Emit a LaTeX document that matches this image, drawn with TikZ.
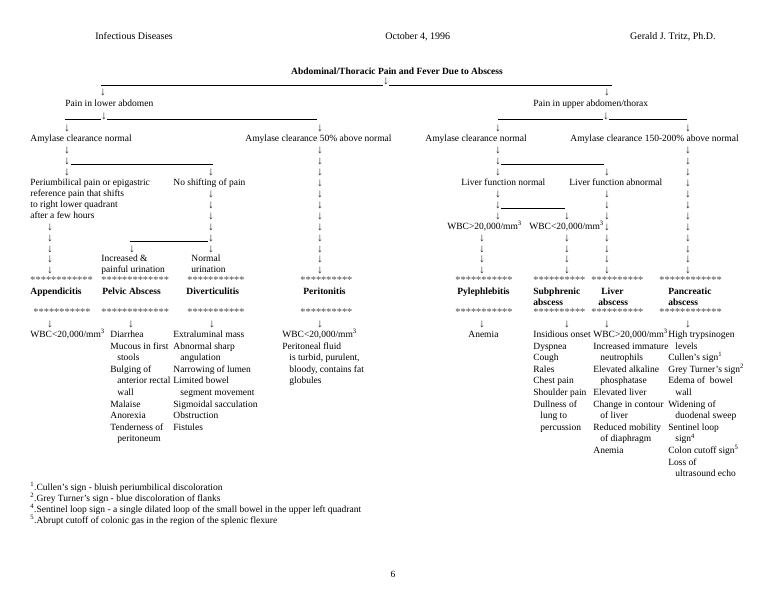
\documentclass[tikz,border=0pt]{standalone}
\usepackage{fontspec}
\setmainfont{Liberation Serif}
\newcommand{\ind}{\hspace*{7pt}}
\newcommand{\mmc}{mm\textsuperscript{3}}

\begin{document}
\begin{tikzpicture}[x=1pt,y=-1pt,line width=0.8pt,
  txt/.style={anchor=west,inner sep=0pt,font=\fontsize{9.5}{11}\selectfont,text height=6.8pt,text depth=1.8pt},
  bold txt/.style={txt,font=\fontsize{9.5}{11}\selectfont\bfseries},
  star/.style={txt,font=\fontsize{10.4}{11}\selectfont,text=black!70},
  dn/.style={inner sep=0pt,font=\fontsize{11.5}{12}\selectfont,text=black!85}]

\useasboundingbox[fill=white] (0,0) rectangle (772,589);

% header
\node[txt,font=\fontsize{10}{12}\selectfont] (h1) at (95,37) {Infectious Diseases};
\node[txt,font=\fontsize{10}{12}\selectfont] (h2) at (385,37) {October 4, 1996};
\node[txt,font=\fontsize{10}{12}\selectfont,anchor=east] (h3) at (716,37) {Gerald J. Tritz, Ph.D.};
\node[bold txt,anchor=center,text depth=0pt] (title) at (397,71) {Abdominal/Thoracic Pain and Fever Due to Abscess};

\node[dn] (t0) at (386,81) {↓};
\coordinate (t1) at (101,85); \coordinate (t2) at (383,85);
\coordinate (t3) at (389,85); \coordinate (t4) at (612,85);
\draw[line width=0.5pt] (t1) -- (t2);
\draw[line width=0.5pt] (t3) -- (t4);

\node[dn] (lo0) at (103,92) {↓};
\node[dn] (up0) at (607,92) {↓};
\node[txt] (lower) at (65,104) {Pain in lower abdomen};
\node[txt] (upper) at (533,104) {Pain in upper abdomen/thorax};
\node[dn] (lo1) at (104,116) {↓};
\node[dn] (up1) at (606,116) {↓};
\coordinate (l1) at (65,119); \coordinate (l2) at (101,119);
\coordinate (l3) at (107,119); \coordinate (l4) at (317,119);
\coordinate (u1) at (498,119); \coordinate (u2) at (603,119);
\coordinate (u3) at (609,119); \coordinate (u4) at (687,119);
\draw (l1) -- (l2); \draw (l3) -- (l4);
\draw (u1) -- (u2); \draw (u3) -- (u4);

\node[txt] (am1) at (30,139) {Amylase clearance normal};
\node[txt] (am2) at (245,139) {Amylase clearance 50\% above normal};
\node[txt] (am3) at (425,139) {Amylase clearance normal};
\node[txt] (am4) at (570,139) {Amylase clearance 150-200\% above normal};

% arrow columns
\foreach \y [count=\i] in {128,150,161,172}
  \node[dn] (ca\i) at (67,\y) {↓};
\foreach \y [count=\i] in {128,150,161,172,183,194,205,216,227,238,249,259,270}
  \node[dn] (cp\i) at (320,\y) {↓};
\foreach \y [count=\i] in {128,150,161,172,194,205,216}
  \node[dn] (cn\i) at (498,\y) {↓};
\foreach \y [count=\i] in {128,150,161,172,183,194,205,216,227,238,249,259,270}
  \node[dn] (cr\i) at (688,\y) {↓};
\foreach \y [count=\i] in {172,194,205,216,227,238,249}
  \node[dn] (cd\i) at (211,\y) {↓};
\foreach \y [count=\i] in {172,194,205,216,227,238,249,259,270}
  \node[dn] (cl\i) at (607,\y) {↓};
\foreach \y [count=\i] in {216,238,249,259,270}
  \node[dn] (cs\i) at (567,\y) {↓};
\foreach \y [count=\i] in {238,249,259,270}
  \node[dn] (cy\i) at (482,\y) {↓};
\foreach \y [count=\i] in {227,238,249,259,270}
  \node[dn] (cx\i) at (50,\y) {↓};
\node[dn] (cv1) at (132,249) {↓};

\coordinate (m1) at (71,164); \coordinate (m2) at (213,164);
\coordinate (m3) at (501,164); \coordinate (m4) at (604,164);
\draw (m1) -- (m2); \draw (m3) -- (m4);

\node[txt] (peri1) at (30,183) {Periumbilical pain or epigastric};
\node[txt] (peri2) at (30,194) {reference pain that shifts};
\node[txt] (peri3) at (30,205) {to right lower quadrant};
\node[txt] (peri4) at (30,216) {after a few hours};
\node[txt] (noshift) at (173,183) {No shifting of pain};
\node[txt] (lvn) at (461,183) {Liver function normal};
\node[txt] (lva) at (569,183) {Liver function abnormal};

\coordinate (w1) at (501,208); \coordinate (w2) at (565,208);
\draw (w1) -- (w2);
\node[txt] (wbc1) at (447,227) {WBC>20,000/\mmc};
\node[txt] (wbc2) at (529,227) {WBC<20,000/\mmc};

\coordinate (n1) at (130,241); \coordinate (n2) at (208,241);
\draw (n1) -- (n2);
\node[txt] (inc1) at (101,259) {Increased \&};
\node[txt] (inc2) at (101,270) {painful urination};
\node[txt] (nor1) at (191,259) {Normal};
\node[txt] (nor2) at (191,270) {urination};

% diagnoses
\node[star] (sa1) at (30,281) {************};
\node[star] (sb1) at (101,281) {*************};
\node[star] (sc1) at (187,281) {***********};
\node[star] (sd1) at (300,281) {**********};
\node[star] (se1) at (455,281) {***********};
\node[star] (sf1) at (533,281) {**********};
\node[star] (sg1) at (591,281) {**********};
\node[star] (sh1) at (659,281) {************};

\node[bold txt] (appe) at (30,292) {Appendicitis};
\node[bold txt] (pelv) at (102,292) {Pelvic Abscess};
\node[bold txt] (dive) at (186,292) {Diverticulitis};
\node[bold txt] (peri) at (303,292) {Peritonitis};
\node[bold txt] (pyle) at (457,292) {Pylephlebitis};
\node[bold txt] (subp) at (533,292) {Subphrenic};
\node[bold txt] (subp2) at (533,302.5) {abscess};
\node[bold txt] (live) at (601,292) {Liver};
\node[bold txt] (live2) at (598,302.5) {abscess};
\node[bold txt] (panc) at (668,292) {Pancreatic};
\node[bold txt] (panc2) at (668,302.5) {abscess};

\node[star] (sa2) at (33,313) {***********};
\node[star] (sb2) at (101,313) {*************};
\node[star] (sc2) at (187,313) {***********};
\node[star] (sd2) at (300,313) {**********};
\node[star] (se2) at (455,313) {***********};
\node[star] (sf2) at (533,313) {**********};
\node[star] (sg2) at (591,313) {**********};
\node[star] (sh2) at (659,313) {************};

\node[dn] (da) at (50,324) {↓};
\node[dn] (db) at (131,324) {↓};
\node[dn] (dc) at (212,324) {↓};
\node[dn] (dd) at (320,324) {↓};
\node[dn] (de) at (482,324) {↓};
\node[dn] (df) at (567,324) {↓};
\node[dn] (dg) at (607,324) {↓};
\node[dn] (dh) at (688,324) {↓};

% findings
\node[txt] (fa0) at (30,335) {WBC<20,000/\mmc};
\foreach \t [count=\i from 0] in {Diarrhea,Mucous in first,\ind stools,Bulging of,\ind anterior rectal,\ind wall,Malaise,Anorexia,Tenderness of,\ind peritoneum}
  \node[txt] (fb\i) at (110,335+11.6*\i) {\t};
\foreach \t [count=\i from 0] in {Extraluminal mass,Abnormal sharp,\ind angulation,Narrowing of lumen,Limited bowel,\ind segment movement,Sigmoidal sacculation,Obstruction,Fistules}
  \node[txt] (fc\i) at (173,335+11.6*\i) {\t};
\foreach \t [count=\i from 0] in {{WBC<20,000/\mmc},Peritoneal fluid,{\ind is turbid, purulent,},{\ind bloody, contains fat},\ind globules}
  \node[txt] (fd\i) at (282,335+11.6*\i) {\t};
\node[txt] (fe0) at (468,335) {Anemia};
\foreach \t [count=\i from 0] in {Insidious onset,Dyspnea,Cough,Rales,Chest pain,Shoulder pain,Dullness of,\ind lung to,\ind percussion}
  \node[txt] (ff\i) at (533,335+11.6*\i) {\t};
\foreach \t [count=\i from 0] in {{WBC>20,000/\mmc},Increased immature,\ind neutrophils,Elevated alkaline,\ind phosphatase,Elevated liver,Change in contour,\ind of liver,Reduced mobility,\ind of diaphragm,Anemia}
  \node[txt] (fg\i) at (593,335+11.6*\i) {\t};
\foreach \t [count=\i from 0] in {High trypsinogen,\ind levels,Cullen's sign\textsuperscript{1},Grey Turner's sign\textsuperscript{2},Edema of\ \ bowel,\ind wall,Widening of,\ind duodenal sweep,Sentinel loop,\ind sign\textsuperscript{4},Colon cutoff sign\textsuperscript{5},Loss of,\ind ultrasound echo}
  \node[txt] (fh\i) at (668,335+11.6*\i) {\t};

% footnotes
\node[txt] (fn1) at (30,488) {\textsuperscript{1}.Cullen's sign - bluish periumbilical discoloration};
\node[txt] (fn2) at (30,499) {\textsuperscript{2}.Grey Turner's sign - blue discoloration of flanks};
\node[txt] (fn4) at (30,510) {\textsuperscript{4}.Sentinel loop sign - a single dilated loop of the small bowel in the upper left quadrant};
\node[txt] (fn5) at (30,521) {\textsuperscript{5}.Abrupt cutoff of colonic gas in the region of the splenic flexure};

\node[txt,anchor=center] (page) at (393,575) {6};
\end{tikzpicture}
\end{document}
